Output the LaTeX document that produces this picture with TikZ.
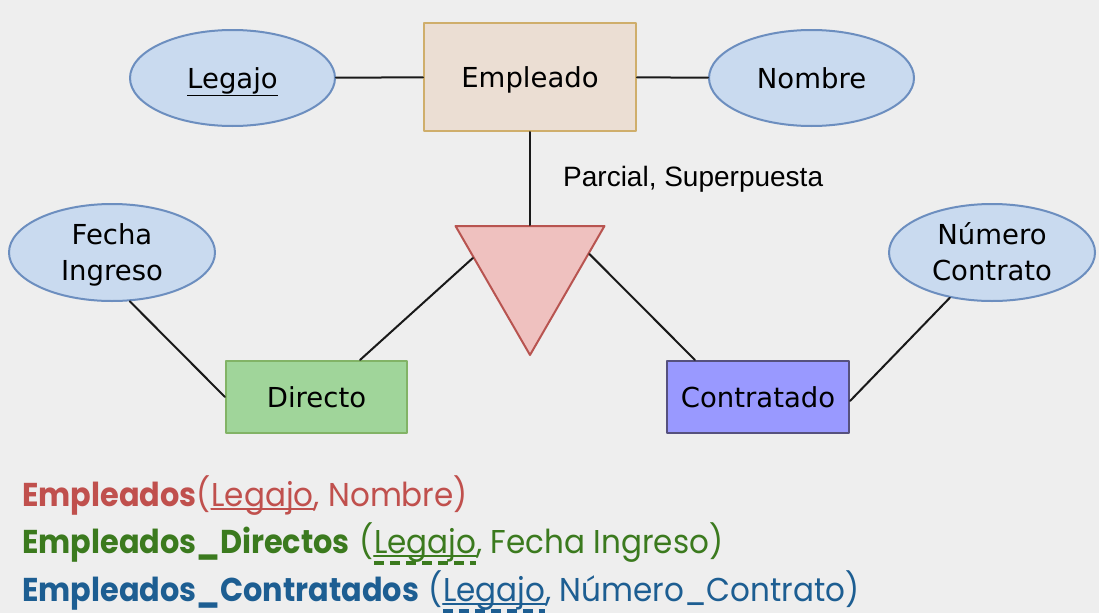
\documentclass[tikz,border=0pt]{standalone}
\usepackage{fontspec}
\setmainfont{DejaVu Sans}
\newfontfamily\labelfont{Liberation Sans}
\newfontfamily\relfont[FakeStretch=0.94,BoldFeatures={FakeStretch=0.92}]{Poppins}
\usetikzlibrary{shapes.geometric,calc}
\definecolor{bgcol}{HTML}{EEEEEE}
\definecolor{entfill}{HTML}{EBDED3}
\definecolor{entdraw}{HTML}{CFAE6B}
\definecolor{attfill}{HTML}{C9DAEF}
\definecolor{attdraw}{HTML}{6C8EBF}
\definecolor{dirfill}{HTML}{A0D59A}
\definecolor{dirdraw}{HTML}{82B366}
\definecolor{confill}{HTML}{9999FF}
\definecolor{condraw}{HTML}{56517E}
\definecolor{trifill}{HTML}{EFC1BF}
\definecolor{tridraw}{HTML}{B85450}
\definecolor{relred}{HTML}{C0504D}
\definecolor{relgreen}{HTML}{3B7A1E}
\definecolor{relblue}{HTML}{1D5E92}
\newcommand{\twolines}[2]{\vtop{\halign{\hfil##\hfil\cr #1\cr #2\cr}}}

\begin{document}
\begin{tikzpicture}[x=1pt,y=-1pt,line cap=round,line join=round,
    every node/.style={font=\fontsize{27.5}{35.7}\selectfont},
    entity/.style={draw,line width=2pt,inner sep=0pt,text height=20pt,text depth=0pt},
    attr/.style={ellipse,draw=attdraw,fill=attfill,line width=2pt,inner sep=0pt,
      minimum width=205,minimum height=96,text height=20pt,text depth=0pt},
    link/.style={line width=2pt,black!90},
    rel/.style={inner sep=0pt,anchor=base west,font=\relfont\fontsize{33}{40}\selectfont}]
      \fill[bgcol] (0,0) rectangle (1099,613);
      \useasboundingbox (0,0) rectangle (1099,613);

      % Entities and attributes
      \node[entity,draw=entdraw,fill=entfill,minimum width=212,minimum height=108] (emp) at (530,77) {Empleado};
      \node[attr] (leg) at (232.5,78) {\underline{Legajo}};
      \node[attr] (nom) at (811.5,78) {Nombre};
      \node[attr,minimum width=206,minimum height=97,text depth=35.7pt] (fec) at (112,252.5) {\twolines{Fecha}{Ingreso}};
      \node[attr,minimum width=206,minimum height=97,text depth=35.7pt] (num) at (992,252.5) {\twolines{Número}{Contrato}};
      \node[entity,draw=dirdraw,fill=dirfill,minimum width=181,minimum height=72] (dir) at (316.5,397) {Directo};
      \node[entity,draw=condraw,fill=confill,minimum width=182,minimum height=72] (con) at (758,397) {Contratado};

      % Specialization triangle
      \node[regular polygon,regular polygon sides=3,shape border rotate=180,minimum size=172,
        inner sep=0pt,draw=tridraw,fill=trifill,line width=2pt] (tri) at (530,269) {};
      \node[anchor=base west,inner sep=0pt,font=\labelfont\fontsize{28}{32}\selectfont] (cov) at (563,186.5) {Parcial, Superpuesta};

      % Connectors
      \coordinate (tritop) at ($(tri.corner 2)!0.5!(tri.corner 3)$);
      \coordinate (trileft) at ($(tri.corner 3)!0.25!(tri.corner 1)$);
      \coordinate (triright) at ($(tri.corner 2)!0.22!(tri.corner 1)$);
      \draw[link] (leg) -- (emp);
      \draw[link] (emp) -- (nom);
      \draw[link] (emp.south) -- (tritop);
      \draw[link] (trileft) -- ([xshift=43.5pt]dir.north);
      \draw[link] (triright) -- ([xshift=-63pt]con.north);
      \draw[link] (fec.-70) -- (dir.west);
      \draw[link] (num.-133) -- ([yshift=-4pt]con.east);

      % Relational schema
      \node[rel,text=relred] (ra) at (22,506) {\bfseries Empleados};
      \node[rel,text=relred] (rb) at (ra.base east) {(};
      \node[rel,text=relred] (rc) at (rb.base east) {Legajo};
      \node[rel,text=relred] (rd) at (rc.base east) {, Nombre)};
      \draw[relred,line width=2pt] ([yshift=-3pt]rc.base west) -- ([yshift=-3pt]rc.base east);

      \node[rel,text=relgreen] (da) at (22,553) {\bfseries Empleados\_Directos};
      \node[rel,text=relgreen] (db) at (da.base east) {\hspace{0.28em}(};
      \node[rel,text=relgreen] (dc) at (db.base east) {Legajo};
      \node[rel,text=relgreen] (dd) at (dc.base east) {, Fecha Ingreso)};
      \draw[relgreen,line width=2pt] ([yshift=-3pt]dc.base west) -- ([yshift=-3pt]dc.base east);
      \draw[relgreen,line width=4pt,line cap=butt,dash pattern=on 10pt off 6pt] ([yshift=-10pt]dc.base west) -- ([yshift=-10pt]dc.base east);

      \node[rel,text=relblue] (ca) at (22,601) {\bfseries Empleados\_Contratados};
      \node[rel,text=relblue] (cb) at (ca.base east) {\hspace{0.28em}(};
      \node[rel,text=relblue] (cc) at (cb.base east) {Legajo};
      \node[rel,text=relblue] (cd) at (cc.base east) {, Número\_Contrato)};
      \draw[relblue,line width=2pt] ([yshift=-3pt]cc.base west) -- ([yshift=-3pt]cc.base east);
      \draw[relblue,line width=4pt,line cap=butt,dash pattern=on 10pt off 6pt] ([yshift=-10pt]cc.base west) -- ([yshift=-10pt]cc.base east);
    \end{tikzpicture}
\end{document}
